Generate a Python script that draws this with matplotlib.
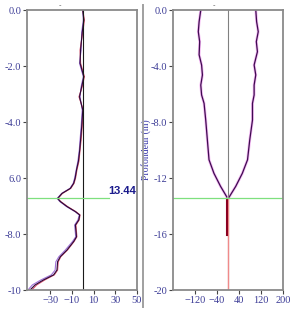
import matplotlib.pyplot as plt
from matplotlib.lines import Line2D

# --- donnees ---
# panneau gauche : profil (profondeur en m, valeur)
left_depth = [0, -0.36, -0.8, -1.43, -1.9, -2.38, -2.74, -3.1, -3.57, -4.17, -4.64, -5.0,
              -5.4, -5.7, -6.0, -6.19, -6.37, -6.55, -6.73, -6.84, -7.02, -7.2, -7.32, -7.5,
              -7.68, -8.1, -8.27, -8.57, -8.81, -8.99, -9.29, -9.46, -9.64, -9.82, -10.0]
left_dark = [0, 1, -0.5, -2, -2.5, 1, -1, -3, 0, -1, -2, -2.8,
             -4, -5.7, -7, -8.4, -11.4, -19.1, -23.2, -20.7, -14.5, -6.8, -2.8, -3.7,
             -6.8, -5.8, -8.4, -14.5, -20.7, -23.2, -23.8, -26.9, -36.2, -44, -48.6]
left_purple = [0, 0.5, -1, -1.5, -3, 0.5, -1.5, -2.5, -0.5, -1.5, -2.5, -3.2,
               -4.5, -6.0, -7.5, -8.8, -11.8, -19.5, -23.6, -21.2, -15.0, -7.2, -3.2, -4.5,
               -7.5, -6.5, -9.5, -16.0, -22.0, -24.8, -25.5, -29.0, -38.5, -46.5, -50.5]
left_red = [0, 1.5, 0, -2.5, -2, 1.5, -0.5, -3.5, 0.5, -0.5, -1.5, -2.5,
            -3.5, -5.3, -6.6, -8.0, -11.0, -18.7, -22.8, -20.3, -14.0, -6.4, -2.5, -3.3,
            -6.3, -5.4, -8.0, -14.0, -20.2, -22.6, -23.2, -26.2, -35.0, -42.5, -47.0]
left_marker_depth = -6.71
left_marker_label = "13.44"

# panneau droit : deux branches qui se rejoignent
right_depth_l = [0, -0.83, -1.55, -2.26, -3.2, -3.93, -4.64, -5.36, -6.07, -6.67,
                 -7.86, -9.29, -10.7, -11.67, -12.6, -13.43]
right_x_l = [-99, -105, -108, -103, -105, -96, -93, -99, -96, -87,
             -81, -75, -69, -51, -27, -2]
right_depth_r = [0, -0.83, -1.55, -2.26, -2.98, -3.93, -4.64, -5.36, -6.07, -6.67,
                 -7.86, -9.29, -10.7, -11.67, -12.6, -13.43]
right_x_r = [101, 104, 110, 103, 107, 95, 101, 95, 95, 89,
             89, 79, 71, 52, 28, 2]
tail_depth = [-13.43, -20]
tail_x = [0, 0]
tail_dark_depth = [-13.57, -16.07]
tail_dark_x = [-2, -2]
right_marker_depth = -13.43

left_yticks = [0, -2, -4, -6, -8, -10]
left_ylabels = ["0.0", "-2.0", "-4.0", "6.0", "-8.0", "-10"]
left_xticks = [-30, -10, 10, 30, 50]
right_yticks = [0, -4, -8, -12, -16, -20]
right_ylabels = ["0.0", "-4.0", "-8.0", "-12", "-16", "-20"]
right_xticks = [-120, -40, 40, 120, 200]

TICK_COLOR = "#3c3c96"
SPINE_COLOR = "#8a8a8a"

fig = plt.figure(figsize=(2.99, 3.14), dpi=100)
ax1 = fig.add_axes([27 / 299, 24 / 314, 110 / 299, 280 / 314])
ax2 = fig.add_axes([173 / 299, 24 / 314, 110 / 299, 280 / 314])


def style_axis(ax):
    for side in ["top", "bottom", "left", "right"]:
        ax.spines[side].set_color(SPINE_COLOR)
        ax.spines[side].set_linewidth(1.3)
    ax.tick_params(direction="out", length=3, width=0.8, color="#444444",
                   labelcolor=TICK_COLOR, labelsize=7.5, pad=1)
    for lab in ax.get_xticklabels() + ax.get_yticklabels():
        lab.set_family("Liberation Serif")


# panneau gauche
ax1.plot(left_purple, left_depth, color="#a070d8", lw=0.8)
ax1.plot(left_red, left_depth, color="#d8506a", lw=0.8)
ax1.plot(left_dark, left_depth, color="#2a0a3a", lw=0.8)
ax1.axvline(0, color="#1a1a1a", lw=0.8)
ax1.plot([-51.4, 24], [left_marker_depth, left_marker_depth], color="#7ee07e", lw=0.9)
ax1.text(49, left_marker_depth + 0.05, left_marker_label, color="#1a1a8c", fontsize=8,
         fontweight="bold", ha="right", va="bottom", family="Liberation Sans")
ax1.set_xlim(-51.4, 50)
ax1.set_ylim(-10, 0)
ax1.set_xticks(left_xticks)
ax1.set_yticks(left_yticks)
ax1.set_yticklabels(left_ylabels)
style_axis(ax1)

# panneau droit
for xs, ds in [(right_x_l, right_depth_l), (right_x_r, right_depth_r)]:
    ax2.plot(xs, ds, color="#f4b8f4", lw=2.0)
    ax2.plot(xs, ds, color="#3e0c50", lw=0.9)
ax2.axvline(0, color="#808080", lw=0.8)
ax2.plot(tail_x, tail_depth, color="#f08a8a", lw=1.0)
ax2.plot(tail_dark_x, tail_dark_depth, color="#8b0020", lw=1.5)
ax2.axhline(right_marker_depth, color="#7ee07e", lw=0.9)
ax2.set_xlim(-200, 200)
ax2.set_ylim(-20, 0)
ax2.set_xticks(right_xticks)
ax2.set_yticks(right_yticks)
ax2.set_yticklabels(right_ylabels)
style_axis(ax2)
ax2.set_ylabel("Profondeur (m)", color="#3333aa", fontsize=7, family="Liberation Serif",
               labelpad=0)

# separateur entre les panneaux et petites marques en haut
fig.add_artist(Line2D([143 / 299, 143 / 299], [7 / 314, 309 / 314], color="#a0a0a0", lw=1.4))
fig.text(60 / 299, 1 - 5 / 314, "-", fontsize=5, color="#555555", ha="center", va="center")
fig.text(214 / 299, 1 - 5 / 314, "-", fontsize=5, color="#555555", ha="center", va="center")

fig.savefig("out.png", dpi=100)
